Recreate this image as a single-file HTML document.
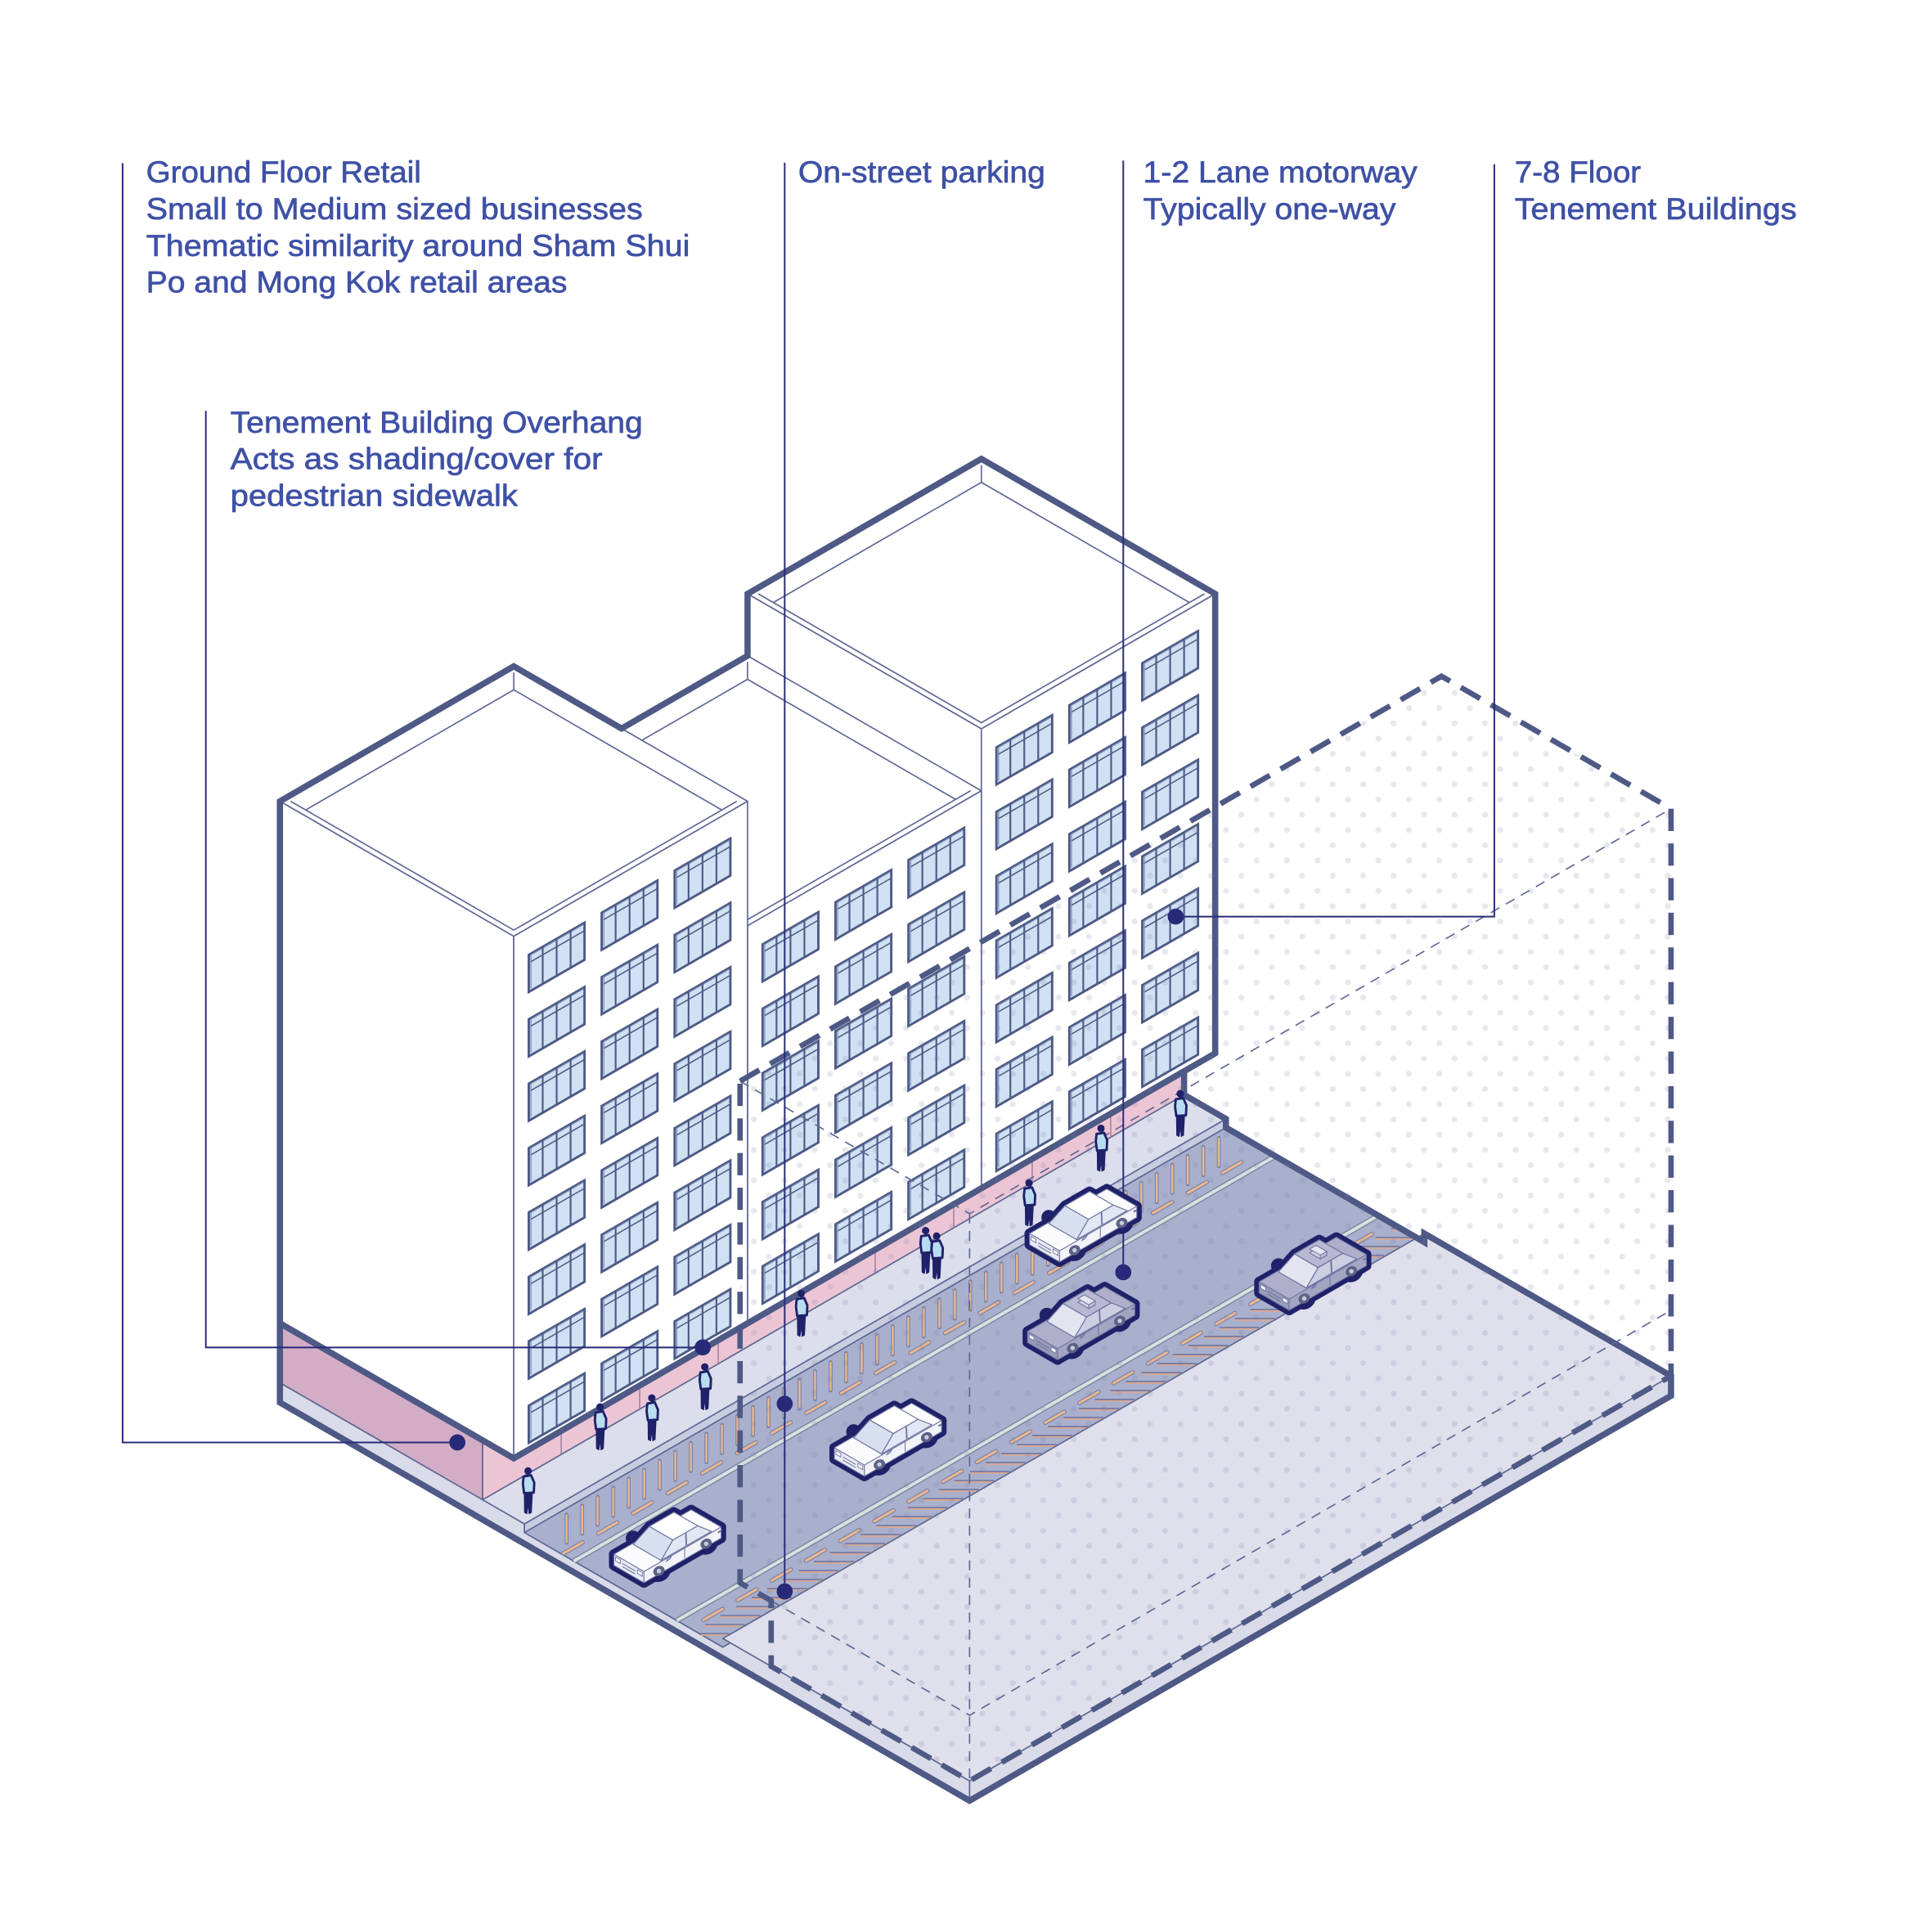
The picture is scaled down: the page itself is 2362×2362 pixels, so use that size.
<!DOCTYPE html>
<html><head><meta charset="utf-8"><title>Tenement street section</title>
<style>
html,body{margin:0;padding:0;background:#fff;overflow:hidden;}
svg{display:block;}
.lbl text{font-family:"Liberation Sans",Arial,sans-serif;font-size:24.5px;fill:#3f51a6;stroke:#3f51a6;stroke-width:0.45px;}
</style></head><body>
<svg id="s" xmlns="http://www.w3.org/2000/svg" width="2362" height="2362" viewBox="0 0 1560 1560">
<defs>
<pattern id="dots" patternUnits="userSpaceOnUse" width="24.6" height="24.6">
<circle cx="6" cy="6" r="2.4" fill="#6e73a0" fill-opacity="0.17"/>
<circle cx="18.3" cy="18.3" r="2.4" fill="#6e73a0" fill-opacity="0.17"/>
</pattern>
</defs>
<rect width="1560" height="1560" fill="#fff"/>
<g id="art"></g>
<g id="ann" stroke="#272b7a" stroke-width="1.3" fill="none">
<polyline points="99,131.8 99,1164.7 369.3,1164.7"/>
<polyline points="166.2,331.7 166.2,1088 567.4,1088"/>
<polyline points="633.6,131.4 633.6,1285"/>
<polyline points="907,129.6 907,1027.3"/>
<polyline points="1206.6,132.7 1206.6,740.1 949.3,740.1"/>
</g>
<g id="top"></g>
<g fill="#262a78">
<circle cx="369.3" cy="1164.7" r="6.5"/>
<circle cx="567.4" cy="1088" r="6.5"/>
<circle cx="633.6" cy="1133.5" r="6.5"/>
<circle cx="633.6" cy="1285" r="6.5"/>
<circle cx="907" cy="1027.3" r="6.5"/>
<circle cx="949.3" cy="740.1" r="6.5"/>
</g>
<g class="lbl">
<text x="118" y="147.4" textLength="222" lengthAdjust="spacingAndGlyphs">Ground Floor Retail</text>
<text x="118" y="177" textLength="401" lengthAdjust="spacingAndGlyphs">Small to Medium sized businesses</text>
<text x="118" y="206.6" textLength="439" lengthAdjust="spacingAndGlyphs">Thematic similarity around Sham Shui</text>
<text x="118" y="236.2" textLength="340" lengthAdjust="spacingAndGlyphs">Po and Mong Kok retail areas</text>
<text x="186" y="349.4" textLength="333" lengthAdjust="spacingAndGlyphs">Tenement Building Overhang</text>
<text x="186" y="378.9" textLength="300.5" lengthAdjust="spacingAndGlyphs">Acts as shading/cover for</text>
<text x="186" y="408.4" textLength="232" lengthAdjust="spacingAndGlyphs">pedestrian sidewalk</text>
<text x="644.5" y="147.4" textLength="199.5" lengthAdjust="spacingAndGlyphs">On-street parking</text>
<text x="923" y="147.4" textLength="221.4" lengthAdjust="spacingAndGlyphs">1-2 Lane motorway</text>
<text x="923" y="177" textLength="204" lengthAdjust="spacingAndGlyphs">Typically one-way</text>
<text x="1223" y="147.4" textLength="102" lengthAdjust="spacingAndGlyphs">7-8 Floor</text>
<text x="1223" y="177" textLength="227.8" lengthAdjust="spacingAndGlyphs">Tenement Buildings</text>
</g>
</svg>
<script>
(function(){
const NS='http://www.w3.org/2000/svg';
const art=document.getElementById('art'), topG=document.getElementById('top');
const K=0.8660254, tan=0.5773503;
const P=(a,b,z)=>[K*(a+b),0.5*(b-a)-z];
const r2=n=>Math.round(n*100)/100;
function el(par,tag,at){const e=document.createElementNS(NS,tag);for(const k in at)e.setAttribute(k,at[k]);par.appendChild(e);return e;}
function pts(L){return L.map(p=>{const q=P(p[0],p[1],p[2]);return r2(q[0])+','+r2(q[1]);}).join(' ');}
function poly(par,L,at){at.points=pts(L);return el(par,'polygon',at);}
function pl(par,L,at){at.points=pts(L);if(!at.fill)at.fill='none';return el(par,'polyline',at);}
function seg(par,x1,y1,x2,y2,at){at.x1=r2(x1);at.y1=r2(y1);at.x2=r2(x2);at.y2=r2(y2);return el(par,'line',at);}

const OUT='#4e5985', TH='#5f6893';
const aL=-986,aAB=-768,aBC=-550,aR=-332;
const bBk=1247,bF=1465,bRt=1436,bCb=1475,bL1=1521,bL2=1617,bFar=1660,bS=1890;
const zG=48,HA=469.5,HB=369,HC=419,zR=-7,zSB=-16;
const bBx=1676,bBxR=1705,zBx=458,zBg=53;
const T=(o)=>Object.assign({stroke:TH,'stroke-width':1.1,'stroke-linejoin':'round'},o||{});
const aAt=(x,y,z)=>(tan*x-y)-z;

// slab faces
poly(art,[[aL,bBk,0],[aL,bCb,0],[aL,bCb,zR],[aL,bFar,zR],[aL,bFar,0],[aL,bS,0],[aL,bS,zSB],[aL,bBk,zSB]],T({fill:'#d9dbe9'}));
poly(art,[[aL,bS,0],[aR,bS,0],[aR,bS,zSB],[aL,bS,zSB]],T({fill:'#d9dbe9'}));
// near sidewalk + curb
poly(art,[[aL,bRt,0],[aR,bRt,0],[aR,bCb,0],[aL,bCb,0]],T({fill:'#dcdeec'}));
poly(art,[[aL,bCb,0],[aR,bCb,0],[aR,bCb,zR],[aL,bCb,zR]],T({fill:'#c8cce0'}));
// road
poly(art,[[aL,bCb,zR],[aR,bCb,zR],[aR,bFar,zR],[aL,bFar,zR]],T({fill:'#a9b0ce'}));

// parking bars
for(let x=457.5;x<1020;x+=12.54){
  const y1=1487-tan*x, y2=1510-tan*x;
  const a1=aAt(x,y1,zR), a2=aAt(x,y2,zR);
  if(Math.min(a1,a2)<aL+1||Math.max(a1,a2)>aR-1) continue;
  seg(art,x,y1,x,y2,{stroke:'#7d84a8','stroke-width':3.1,'stroke-linecap':'round'});
  seg(art,x,y1+0.6,x,y2-0.6,{stroke:'#ebb78d','stroke-width':1.6,'stroke-linecap':'round'});
}
function obar(cx,cy,len){
  const dx=K*len/2, dy=0.5*len/2;
  seg(art,cx-dx,cy+dy,cx+dx,cy-dy,{stroke:'#7d84a8','stroke-width':3.6,'stroke-linecap':'round'});
  seg(art,cx-dx,cy+dy,cx+dx,cy-dy,{stroke:'#ebb78d','stroke-width':2,'stroke-linecap':'round'});
}
for(let x=462.7;x<1030;x+=28){const y=1517-tan*x;const a=aAt(x,y,zR);if(a-9<aL||a+9>aR)continue;obar(x,y,17.6);}
// lane lines
[bL1,bL2].forEach(b=>{
  pl(art,[[aL,b,zR],[aR,b,zR]],{stroke:'#7f88aa','stroke-width':4.6});
  pl(art,[[aL,b,zR],[aR,b,zR]],{stroke:'#d4e3dc','stroke-width':2.6});
});
// hatch zone
for(let x=962.1-27.6*25;x<1220;x+=27.6){const y=1636-tan*x;const a=aAt(x,y,zR);if(a-9<aL||a+9>aR)continue;obar(x,y,17.6);}
for(let k=-25;k<45;k++){
  const y=1094.3+7.27*k;
  let x1=(1641-y)/tan, x2=(1659.6-y)/tan;
  const xmin=(aL-7+y)/tan, xmax=(aR-7+y)/tan;
  x1=Math.max(x1,xmin); x2=Math.min(x2,xmax);
  if(x2-x1<1) continue;
  seg(art,x1,y-0.6,x2,y-0.6,{stroke:'#7b80a6','stroke-width':1.3});
  seg(art,x1,y+0.7,x2,y+0.7,{stroke:'#d8a893','stroke-width':1.2});
}
// far sidewalk
poly(art,[[aL,bFar,0],[aR,bFar,0],[aR,bS,0],[aL,bS,0]],T({fill:'#dfe0ec'}));

// retail ground floor
poly(art,[[aL,bBk,0],[aL,bRt,0],[aL,bRt,zG],[aL,bBk,zG]],T({fill:'#d3adc6'}));
poly(art,[[aL,bRt,0],[aR,bRt,0],[aR,bRt,zG],[aL,bRt,zG]],T({fill:'#ecc5d5'}));
for(let a=aL+73.2;a<aR-5;a+=73.2) pl(art,[[a,bRt,0],[a,bRt,zG]],{stroke:'#a0809c','stroke-width':1});

// buildings
function bldg(a0,a1,H){
  const b0=bBk,b1=bF;
  poly(art,[[a0,b0,H],[a1,b0,H],[a1,b1,H],[a0,b1,H]],T({fill:'#fff'}));
  poly(art,[[a0,b0,H],[a0,b1,H],[a0,b1,zG],[a0,b0,zG]],T({fill:'#fff'}));
  poly(art,[[a0,b1,H],[a1,b1,H],[a1,b1,zG],[a0,b1,zG]],T({fill:'#fff'}));
  const t=5,p=14;
  pl(art,[[a0+t,b0+t,H],[a0+t,b1-t,H],[a1-t,b1-t,H]],T());
  pl(art,[[a0+t+p,b0+t,H-p],[a1-t,b0+t,H-p],[a1-t,b1-t-p,H-p]],T());
  pl(art,[[a1-t,b0+t,H],[a1-t,b0+t,H-p]],T());
  const groups=[[14,66],[82,134],[150,202]];
  for(let k=0;k<12;k++){
    const zt=H-22-52*k, zb=zt-30;
    if(zb<zG+3) break;
    groups.forEach(g=>{
      const A0=a0+g[0], A1=a0+g[1];
      poly(art,[[A0,b1,zt],[A1,b1,zt],[A1,b1,zb],[A0,b1,zb]],{fill:'#cfe1f2',stroke:'#4d5985','stroke-width':1.9,'stroke-linejoin':'miter'});
      pl(art,[[A0+1.5,b1,zt-6.5],[A1,b1,zt-6.5]],{stroke:'#4d5985','stroke-width':1});
      pl(art,[[A0+2,b1,zb+2],[A0+2,b1,zt-1],[A1-1,b1,zt-1]],{stroke:'#7e89b0','stroke-width':0.8});
      for(let i=1;i<4;i++){const a=A0+(A1-A0)*i/4;pl(art,[[a,b1,zt],[a,b1,zb]],{stroke:'#4d5985','stroke-width':1.4});}
    });
  }
}
bldg(aBC,aR,HC); bldg(aAB,aBC,HB); bldg(aL,aAB,HA);

// silhouette
poly(art,[[aL,bBk,zSB],[aL,bBk,HA],[aAB,bBk,HA],[-667.5,1247,369],[aBC,bBk,HB],[aBC,bBk,HC],[aR,bBk,HC],[aR,bF,HC],[aR,bF,zG],[-361,bF,zG],[aR,bRt,0],[aR,bCb,0],[aR,bCb,zR],[aR,bFar,zR],[aR,bFar,0],[aR,bS,0],[aR,bS,zSB],[aL,bS,zSB]],{fill:'none',stroke:OUT,'stroke-width':5,'stroke-linejoin':'miter','stroke-miterlimit':6});
pl(art,[[aL,bBk,zG],[aL,bF,zG],[-361,bF,zG]],{stroke:OUT,'stroke-width':5,'stroke-linejoin':'miter'});

// ghost box: dots + dashed
const hex=[[aL,bBx,zBx],[aR,bBx,zBx],[aR,bS,zBx],[aR,bS,0],[aL,bS,0],[aL,bBxR,0],[aL,bBxR,zBg],[aL,bBx,zBg]];
poly(art,hex,{fill:'url(#dots)'});
const td={stroke:TH,'stroke-width':1.1,'stroke-dasharray':'8 6'};
pl(art,[[aL,bBx,zBx],[aL,bS,zBx],[aR,bS,zBx]],Object.assign({},td));
pl(art,[[aL,bS,zBx],[aL,bS,0]],Object.assign({},td));
pl(art,[[aL,bBxR,zBg],[aL,bS,zBg],[aR,bS,zBg]],Object.assign({},td));
pl(art,hex.concat([hex[0]]),{stroke:OUT,'stroke-width':4.4,'stroke-dasharray':'18 10','stroke-linejoin':'miter'});

// people
const NAV='#1f2169';
function person(x,y){
  const g=el(topG,'g',{});
  el(g,'path',{d:'M'+(x-3.4)+','+(y-17)+' L'+(x+3)+','+(y-17)+' L'+(x+2.2)+','+(y-1)+' L'+(x+0.4)+','+(y)+' L'+(x-0.2)+','+(y-9)+' L'+(x-1.4)+','+(y)+' L'+(x-3.2)+','+(y-1)+' Z',fill:NAV,stroke:NAV,'stroke-width':0.8,'stroke-linejoin':'round'});
  el(g,'path',{d:'M'+(x-4)+','+(y-30)+' L'+(x+2)+','+(y-31)+' L'+(x+4.6)+','+(y-25)+' L'+(x+4.2)+','+(y-17)+' L'+(x-3.6)+','+(y-16.5)+' L'+(x-4.6)+','+(y-24)+' Z',fill:'#b8dcf0',stroke:NAV,'stroke-width':1.9,'stroke-linejoin':'round'});
  el(g,'circle',{cx:x-0.4,cy:y-34.5,r:3,fill:NAV});
}
[[426.8,1222.2],[484.9,1170.6],[526.7,1163.3],[569.5,1138.2],[647.3,1079],[747.8,1028.2],[756.7,1032.6],[831.3,989.8],[889.4,945.6],[953.4,917.6]].forEach(p=>person(p[0],p[1]));

// cars
function car(cx,cy,taxi){
  const g=el(topG,'g',{transform:'translate('+cx+','+(cy+6)+')'});
  const F={
    top:[[-36,-14,11],[36,-14,11],[36,14,11],[-36,14,11]],
    front:[[-36,-14,2],[-36,14,2],[-36,14,11],[-36,-14,11]],
    side:[[-36,14,2],[36,14,2],[36,14,11],[-36,14,11]],
    ws:[[-19,-13,11],[-19,13,11],[-6,11,20],[-6,-11,20]],
    sw:[[-19,13,11],[28,13,11],[17,11,20],[-6,11,20]],
    roof:[[-6,-11,20],[17,-11,20],[17,11,20],[-6,11,20]]
  };
  const wheels=[[-22,14,4.5],[22,14,4.5]];
  const og=el(g,'g',{fill:NAV,stroke:NAV,'stroke-width':8,'stroke-linejoin':'round'});
  Object.keys(F).forEach(k=>poly(og,F[k],{}));
  wheels.forEach(w=>{const q=P(w[0],w[1],w[2]);el(og,'ellipse',{cx:r2(q[0]),cy:r2(q[1]),rx:5.6,ry:4.6,transform:'rotate(-30 '+r2(q[0])+' '+r2(q[1])+')'});});
  const mq=P(-16,-16,13);
  el(og,'circle',{cx:r2(mq[0]),cy:r2(mq[1]),r:2});
  const C=taxi?{top:'#afafcb',front:'#9a9bba',side:'#a4a5c3',ws:'#e4e4f0',sw:'#cdcee2',roof:'#b8b8d2'}:{top:'#fbfbfe',front:'#e9ebf5',side:'#f2f3f9',ws:'#d8dff0',sw:'#e2e7f4',roof:'#ffffff'};
  const ln='#6f74a0';
  ['top','front','side'].forEach(k=>poly(g,F[k],{fill:C[k],stroke:ln,'stroke-width':0.7,'stroke-linejoin':'round'}));
  wheels.forEach(w=>{const q=P(w[0],w[1],w[2]);const x=r2(q[0]),y=r2(q[1]);
    el(g,'ellipse',{cx:x,cy:y,rx:4.8,ry:3.9,fill:'#5e6286',transform:'rotate(-30 '+x+' '+y+')'});
    el(g,'circle',{cx:x,cy:y,r:1.8,fill:'#c9ccde'});});
  ['ws','sw','roof'].forEach(k=>poly(g,F[k],{fill:C[k],stroke:ln,'stroke-width':0.8,'stroke-linejoin':'round'}));
  pl(g,[[5,12.6,11],[6,11,20]],{stroke:ln,'stroke-width':1.2});
  pl(g,[[2,14,3],[2,14,11]],{stroke:ln,'stroke-width':0.7});
  poly(g,[[-15,14,9],[-12,14,9],[-12,15.5,12],[-15,15.5,12]],{fill:C.side,stroke:ln,'stroke-width':0.7});
  poly(g,[[-36,8,6.5],[-36,12.5,6.5],[-36,12.5,9.5],[-36,8,9.5]],{fill:'#ffffff',stroke:ln,'stroke-width':0.6});
  poly(g,[[-36,-12.5,6.5],[-36,-8,6.5],[-36,-8,9.5],[-36,-12.5,9.5]],{fill:'#ffffff',stroke:ln,'stroke-width':0.6});
  pl(g,[[-36,-6,5],[-36,6,5]],{stroke:ln,'stroke-width':0.7});
  pl(g,[[-36,-6,7.5],[-36,6,7.5]],{stroke:ln,'stroke-width':0.7});
  pl(g,[[36,14,8],[33,14,8]],{stroke:ln,'stroke-width':1.4});
  if(taxi){
    poly(g,[[2,-5,20],[8,-5,20],[8,5,20],[2,5,20]],{fill:'#d4d4e6',stroke:ln,'stroke-width':0.7});
    poly(g,[[2,5,20],[8,5,20],[8,5,23],[2,5,23]],{fill:'#c2c2da',stroke:ln,'stroke-width':0.7});
    poly(g,[[2,-5,23],[8,-5,23],[8,5,23],[2,5,23]],{fill:'#e6e6f2',stroke:ln,'stroke-width':0.7});
  }
}
car(539,1249,false);
car(717,1163,false);
car(874.6,990,false);
car(873,1069,true);
car(1060,1029,true);
})();
</script>
</body></html>
